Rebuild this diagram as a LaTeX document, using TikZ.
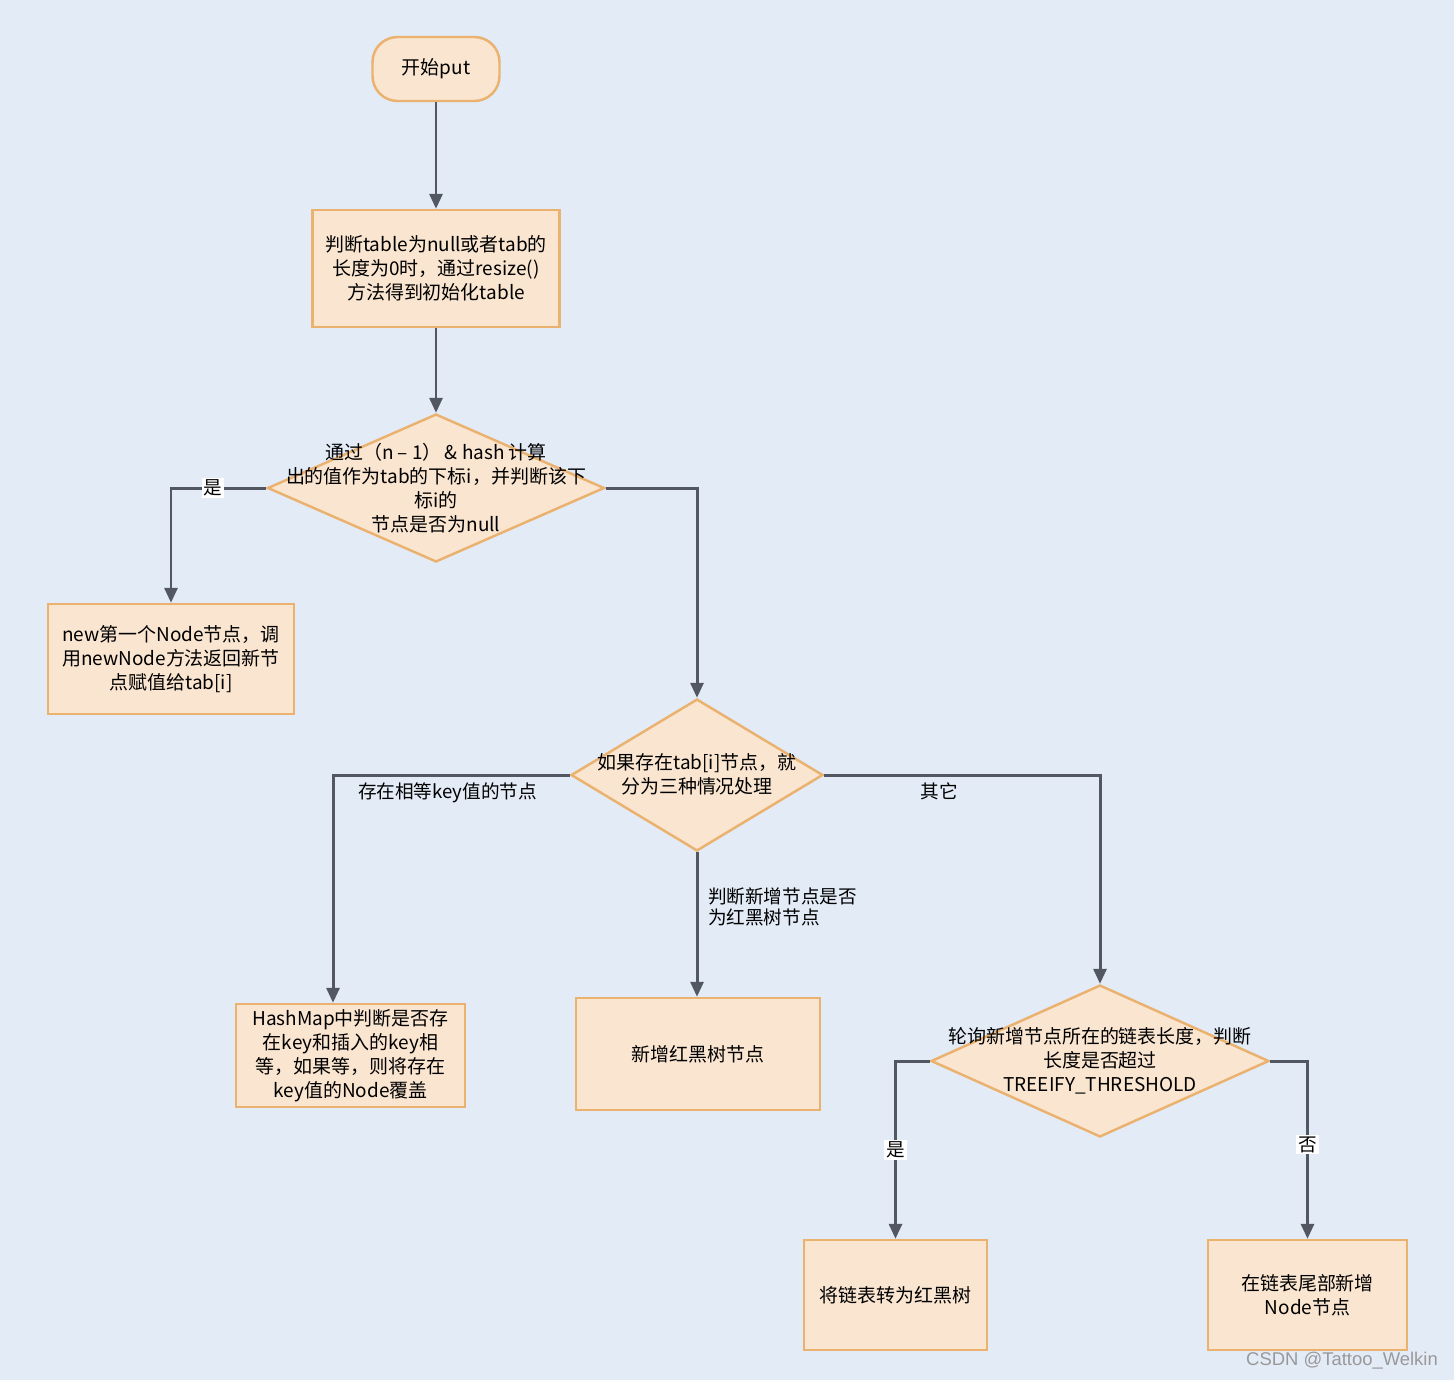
\documentclass[tikz,border=0pt]{standalone}
\usepackage{fontspec}
\setmainfont{Noto Sans CJK SC}
\newfontfamily\wmfont{Liberation Sans}
\usepackage{tikz}
\usetikzlibrary{arrows.meta}
\usetikzlibrary{shapes.geometric}
\usetikzlibrary{positioning}

\definecolor{bgblue}{RGB}{227,235,247}
\definecolor{boxfill}{RGB}{249,229,208}
\definecolor{boxline}{RGB}{234,178,110}
\definecolor{arrowgray}{RGB}{82,87,97}

\tikzset{
	box/.style={draw=boxline,fill=boxfill,line width=1.4pt,align=center,inner sep=0pt,font=\fontsize{10.8}{13.6}\selectfont},
	dia/.style={draw=boxline,fill=boxfill,line width=1.4pt,diamond,inner sep=0pt},
	txt/.style={align=center,inner sep=0pt,font=\fontsize{10.8}{13.6}\selectfont},
	lbl/.style={inner sep=1pt,font=\fontsize{10.6}{12}\selectfont},
	flow/.style={draw=arrowgray,line width=1.7pt,-{Triangle[length=0.3cm,width=0.26cm]}}
}

\begin{document}
\begin{tikzpicture}[x=0.02cm,y=-0.02cm]
	\fill[bgblue] (0,0) rectangle (1454,1380);
	\useasboundingbox (0,0) rectangle (1454,1380);
	% Knoten
	\node[box,rounded corners=0.5cm,minimum width=2.54cm,minimum height=1.28cm](start) at (436,69){开始put};
	\node[box,minimum width=4.94cm,minimum height=2.34cm](init) at (436,268.5){判断table为null或者tab的\\长度为0时，通过resize()\\方法得到初始化table};
	\node[dia,minimum width=6.74cm,minimum height=2.96cm](chk) at (436,488){};
	\node[txt](chktxt) at (436,488){通过（n – 1）\,\& hash 计算\\出的值作为tab的下标i，并判断该下\\标i的\\节点是否为null};
	\node[box,minimum width=4.92cm,minimum height=2.2cm](first) at (171,659){new第一个Node节点，调\\用newNode方法返回新节\\点赋值给tab[i]};
	\node[dia,minimum width=5.04cm,minimum height=3.04cm](cases) at (697,775){};
	\node[txt](casestxt) at (697,774){如果存在tab[i]节点，就\\分为三种情况处理};
	\node[box,minimum width=4.58cm,minimum height=2.06cm](same) at (350.5,1055.5){HashMap中判断是否存\\在key和插入的key相\\等，如果等，则将存在\\key值的Node覆盖};
	\node[box,minimum width=4.88cm,minimum height=2.24cm](rbnode) at (698,1054){新增红黑树节点};
	\node[dia,minimum width=6.76cm,minimum height=3.04cm](len) at (1100,1061){};
	\node[txt](lentxt) at (1100,1061){轮询新增节点所在的链表长度，判断\\长度是否超过\\TREEIFY\_THRESHOLD};
	\node[box,minimum width=3.66cm,minimum height=2.2cm](treeify) at (895.5,1295){将链表转为红黑树};
	\node[box,minimum width=3.98cm,minimum height=2.2cm](tail) at (1307.5,1295){在链表尾部新增\\Node节点};
	% Verbindungen
	\draw[flow] (start.south) -- (start.south |- init.north);
	\draw[flow] (init.south) -- (chk.north);
	\draw[flow] (chk.west) -| node[lbl,fill=white,pos=0.28](yes1){是} (first.north);
	\draw[flow] (chk.east) -| (cases.north);
	\draw[flow] (cases.west) -| ([xshift=-0.35cm]same.north);
	\draw[flow] (cases.south) -- (cases.south |- rbnode.north);
	\draw[flow] (cases.east) -| (len.north);
	\draw[flow] (len.west) -| node[lbl,fill=white,pos=0.75](yes2){是} (treeify.north);
	\draw[flow] (len.east) -| node[lbl,fill=white,pos=0.735](no2){否} (tail.north);
	% Beschriftungen
	\node[lbl,anchor=west](samelbl) at (356,793){存在相等key值的节点};
	\node[lbl](otherlbl) at (939,791){其它};
	\node[lbl,align=left,anchor=west,font=\fontsize{10.6}{11.8}\selectfont](rblbl) at (706,907){判断新增节点是否\\为红黑树节点};
	\node[inner sep=0pt,text=gray!80,font=\wmfont\fontsize{10.5}{12}\selectfont](wm) at (1342,1361){CSDN @Tattoo\_Welkin};
\end{tikzpicture}
\end{document}
